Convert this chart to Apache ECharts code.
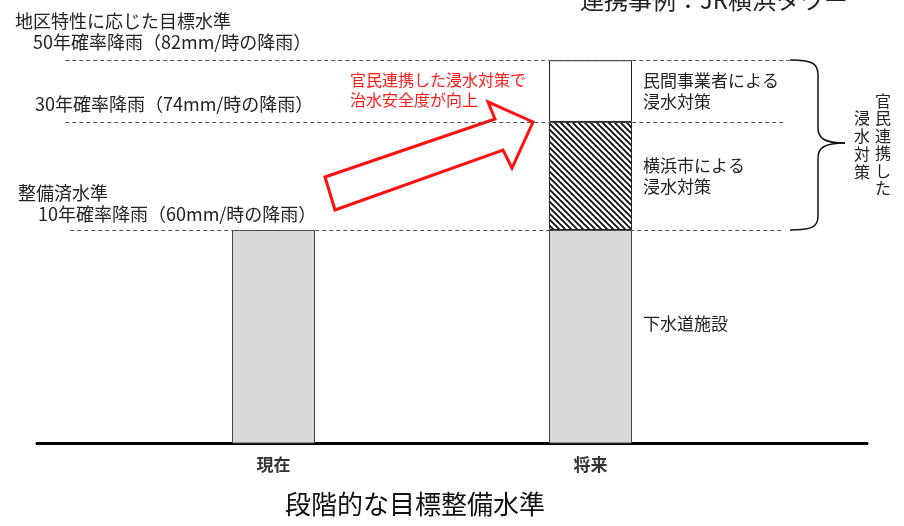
<!DOCTYPE html>
<html>
<head>
<meta charset="utf-8">
<script src="https://cdn.jsdelivr.net/npm/echarts@6/dist/echarts.min.js"></script>
<style>
html,body{margin:0;padding:0;background:#fff;}
#chart{width:904px;height:526px;}
</style>
</head>
<body>
<div id="chart"></div>
<script>
// ---- data ----
const categories = ['現在', '将来'];
const sewerValues = [60, 60];          // 下水道施設 (mm/h)
const cityValues = ['-', 14];          // 横浜市による浸水対策 (60 -> 74)
const privateValues = ['-', 8];        // 民間事業者による浸水対策 (74 -> 82)
const levels = [60, 74, 82];           // 10年, 30年, 50年確率降雨
const seriesNames = ['下水道施設', '横浜市による\n浸水対策', '民間事業者による\n浸水対策'];
const levelLabels = [
  '10年確率降雨（60mm/時の降雨）',
  '30年確率降雨（74mm/時の降雨）',
  '50年確率降雨（82mm/時の降雨）'
];
const chartTitle = '段階的な目標整備水準';
const topTitle = '連携事例：JR横浜タワー';

const FONT = '"Noto Sans CJK JP", "Noto Sans", sans-serif';

// hatch pattern
const pc = document.createElement('canvas');
pc.width = 6; pc.height = 6;
const g = pc.getContext('2d');
g.fillStyle = '#fff'; g.fillRect(0, 0, 6, 6);
g.strokeStyle = '#000'; g.lineWidth = 1.6;
g.beginPath();
g.moveTo(-1, -1); g.lineTo(7, 7);
g.moveTo(5, -1); g.lineTo(7, 1);
g.moveTo(-1, 5); g.lineTo(1, 7);
g.stroke();

const chart = echarts.init(document.getElementById('chart'), null, {renderer: 'canvas'});

// dashed reference lines (fraction of the baseline width)
const lineStart = [0.040, 0.034, 0.034];
const lineEnd = [0.900, 0.899, 0.907];

const braceStyle = {fill: 'none', stroke: '#111', lineWidth: 1.5};
const labelFont = '18px ' + FONT;
const Y_MIN = 32.4, Y_MAX = 89.8;

const option = {
  backgroundColor: '#fff',
  animation: false,
  textStyle: {fontFamily: FONT},
  title: {
    text: chartTitle,
    left: 280, top: 486,
    textStyle: {fontFamily: FONT, fontSize: 26, fontWeight: 'normal', color: '#111'}
  },
  grid: [
    {left: 115, right: 155, top: 0, bottom: 83},
    {left: 37, right: 37, top: 0, bottom: 83}
  ],
  xAxis: [
    {
      type: 'category', gridIndex: 0, data: categories,
      axisTick: {show: false},
      axisLine: {show: false},
      axisLabel: {margin: 13, fontSize: 17, fontWeight: 'bold', color: '#333', fontFamily: FONT}
    },
    {
      type: 'value', gridIndex: 1, min: 0, max: 1,
      splitLine: {show: false}, axisTick: {show: false}, axisLabel: {show: false},
      axisLine: {show: true, onZero: false, lineStyle: {color: '#000', width: 3}}
    }
  ],
  yAxis: [
    {type: 'value', gridIndex: 0, min: Y_MIN, max: Y_MAX, show: false, splitLine: {show: false}},
    {type: 'value', gridIndex: 1, min: Y_MIN, max: Y_MAX, show: false, splitLine: {show: false}}
  ],
  series: [
    {
      name: 'levels', type: 'line', xAxisIndex: 1, yAxisIndex: 1, data: [], silent: true, z: 1,
      markLine: {
        silent: true, symbol: 'none', label: {show: false},
        lineStyle: {type: [4, 3], color: '#555', width: 1},
        data: levels.map((lv, i) => [{coord: [lineStart[i], lv]}, {coord: [lineEnd[i], lv]}])
      }
    },
    {
      name: seriesNames[0], type: 'bar', stack: 'total', barWidth: 83, z: 2,
      data: sewerValues,
      itemStyle: {color: '#d8d8d8', borderColor: '#444', borderWidth: 1},
      label: {
        show: true, position: 'right', distance: 11, offset: [0, -13],
        formatter: p => p.dataIndex === 1 ? seriesNames[0] : '',
        fontSize: 17, color: '#222', fontFamily: FONT, align: 'left'
      }
    },
    {
      name: seriesNames[1], type: 'bar', stack: 'total', barWidth: 83, z: 2,
      data: cityValues,
      itemStyle: {color: {image: pc, repeat: 'repeat'}, borderColor: '#222', borderWidth: 1},
      label: {
        show: true, position: 'right', distance: 11,
        formatter: seriesNames[1],
        fontSize: 17, lineHeight: 21, color: '#222', fontFamily: FONT, align: 'left'
      }
    },
    {
      name: seriesNames[2], type: 'bar', stack: 'total', barWidth: 83, z: 2,
      data: privateValues,
      itemStyle: {color: '#fff', borderColor: '#222', borderWidth: 1},
      label: {
        show: true, position: 'right', distance: 11,
        formatter: seriesNames[2],
        fontSize: 17, lineHeight: 21, color: '#222', fontFamily: FONT, align: 'left'
      }
    }
  ],
  graphic: [
    {type: 'text', left: 580, top: -12, style: {text: topTitle, font: '24px ' + FONT, fill: '#222'}},
    {type: 'text', left: 15, top: 12, style: {text: '地区特性に応じた目標水準', font: labelFont, fill: '#222'}},
    {type: 'text', left: 33, top: 33, style: {text: levelLabels[2], font: labelFont, fill: '#222'}},
    {type: 'text', left: 35, top: 95, style: {text: levelLabels[1], font: labelFont, fill: '#222'}},
    {type: 'text', left: 18, top: 184, style: {text: '整備済水準', font: labelFont, fill: '#222'}},
    {type: 'text', left: 38, top: 205, style: {text: levelLabels[0], font: labelFont, fill: '#222'}},
    {type: 'text', left: 350, top: 70, style: {text: '官民連携した浸水対策で\n治水安全度が向上', font: '16px ' + FONT, lineHeight: 20, fill: '#ff1a1a'}},
    {
      type: 'polygon', z: 5,
      shape: {points: [[325, 177], [495, 119], [488, 102], [533, 122], [512, 168], [503, 150], [335, 210]]},
      style: {fill: '#fff', stroke: '#ff1010', lineWidth: 3, lineJoin: 'miter'}
    },
    {type: 'bezierCurve', z: 5, shape: {x1: 790, y1: 60, x2: 818, y2: 75, cpx1: 812, cpy1: 60, cpx2: 818, cpy2: 63}, style: braceStyle},
    {type: 'line', z: 5, shape: {x1: 818, y1: 75, x2: 818, y2: 128}, style: braceStyle},
    {type: 'bezierCurve', z: 5, shape: {x1: 818, y1: 128, x2: 845, y2: 143, cpx1: 818, cpy1: 138, cpx2: 824, cpy2: 143}, style: braceStyle},
    {type: 'bezierCurve', z: 5, shape: {x1: 845, y1: 143, x2: 818, y2: 158, cpx1: 824, cpy1: 143, cpx2: 818, cpy2: 148}, style: braceStyle},
    {type: 'line', z: 5, shape: {x1: 818, y1: 158, x2: 818, y2: 216}, style: braceStyle},
    {type: 'bezierCurve', z: 5, shape: {x1: 818, y1: 216, x2: 790, y2: 230, cpx1: 818, cpy1: 227, cpx2: 812, cpy2: 230}, style: braceStyle},
    {type: 'text', x: 883, y: 92, style: {text: '官\n民\n連\n携\nし\nた', font: '16px ' + FONT, lineHeight: 17.5, fill: '#222', align: 'center'}},
    {type: 'text', x: 862, y: 109, style: {text: '浸\n水\n対\n策', font: '16px ' + FONT, lineHeight: 18, fill: '#222', align: 'center'}}
  ]
};
chart.setOption(option);
</script>
</body>
</html>
